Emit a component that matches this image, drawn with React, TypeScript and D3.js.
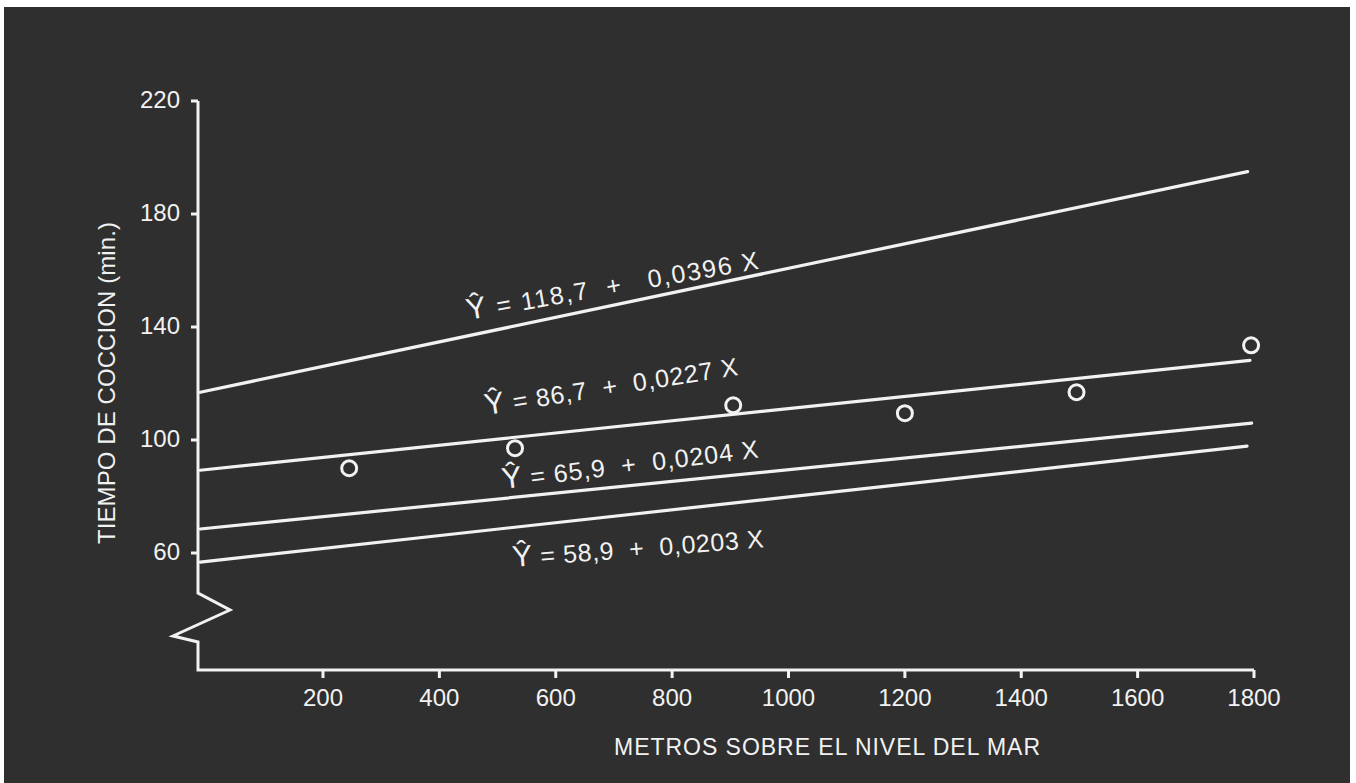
import React from "react";
import * as d3 from "d3";

const xTicks = [200, 400, 600, 800, 1000, 1200, 1400, 1600, 1800];
const yTicks = [60, 100, 140, 180, 220];

const obsX = [245, 530, 905, 1200, 1495, 1795];
const obsY = [90.0, 97.1, 112.3, 109.5, 116.9, 133.5];

const lineStartX = [-11, -11, -11, -11];
const lineEndX = [1789, 1793, 1796, 1788];
const lineStartY = [116.9, 89.3, 68.5, 56.8];
const lineEndY = [195.0, 128.2, 106.0, 97.8];

const eqRest = [
  " = 118,7  +   0,0396 X",
  " = 86,7  +  0,0227 X",
  " = 65,9  +  0,0204 X",
  " = 58,9  +  0,0203 X",
];
const labelPos = [
  { x: 468, y: 320, a: -10, len: 296 },
  { x: 486, y: 415, a: -9, len: 256 },
  { x: 503, y: 489, a: -7, len: 258 },
  { x: 513, y: 567, a: -4.5, len: 252 },
];

const xTitle = "METROS SOBRE EL NIVEL DEL MAR";
const yTitle = "TIEMPO DE COCCION (min.)";

const W = 1356;
const H = 783;
const FG = "#f2f2f2";
const FONT = "'Liberation Sans', Arial, Helvetica, sans-serif";

export default function App() {
  const x = d3.scaleLinear().domain([200, 1800]).range([323, 1254]);
  const y = d3.scaleLinear().domain([60, 220]).range([553, 101]);
  const axisX = 198;
  const axisY = 670;

  const line = d3
    .line<[number, number]>()
    .x((d) => x(d[0]))
    .y((d) => y(d[1]));

  const yAxisPath = d3.path();
  yAxisPath.moveTo(axisX, y(220));
  yAxisPath.lineTo(axisX, 593);
  yAxisPath.lineTo(230, 610);
  yAxisPath.lineTo(173, 636);
  yAxisPath.lineTo(axisX, 642);
  yAxisPath.lineTo(axisX, axisY);
  yAxisPath.lineTo(x(1800), axisY);

  return (
    <svg
      width={W}
      height={H}
      style={{ position: "absolute", left: 0, top: 0 }}
      fontFamily={FONT}
    >
      <rect x={0} y={0} width={W} height={H} fill="#ffffff" />
      <rect x={4} y={7} width={1346} height={H - 7} fill="#2f2f2f" />

      <path
        d={yAxisPath.toString()}
        fill="none"
        stroke={FG}
        strokeWidth={3}
        strokeLinejoin="miter"
      />
      {yTicks.map((t) => (
        <g key={"yt" + t}>
          <line x1={axisX - 7} x2={axisX} y1={y(t)} y2={y(t)} stroke={FG} strokeWidth={3} />
          <text
            x={180}
            y={y(t)}
            dy="0.3em"
            textAnchor="end"
            fontSize={24}
            fill={FG}
          >
            {t}
          </text>
        </g>
      ))}
      {xTicks.map((t) => (
        <g key={"xt" + t}>
          <line x1={x(t)} x2={x(t)} y1={axisY} y2={axisY + 8} stroke={FG} strokeWidth={3} />
          <text x={x(t)} y={706} textAnchor="middle" fontSize={24} fill={FG}>
            {t}
          </text>
        </g>
      ))}

      <text x={827} y={755} textAnchor="middle" fontSize={23} fill={FG} textLength={426}>
        {xTitle}
      </text>
      <text
        transform={`translate(115,383) rotate(-90)`}
        textAnchor="middle"
        fontSize={24}
        fill={FG}
        textLength={322}
      >
        {yTitle}
      </text>

      {lineStartY.map((v, i) => (
        <path
          key={"l" + i}
          d={line([
            [lineStartX[i], v],
            [lineEndX[i], lineEndY[i]],
          ]) || ""}
          fill="none"
          stroke={FG}
          strokeWidth={3.2}
          strokeLinecap="round"
        />
      ))}

      {obsX.map((v, i) => (
        <circle
          key={"c" + i}
          cx={x(v)}
          cy={y(obsY[i])}
          r={7.5}
          fill="none"
          stroke={FG}
          strokeWidth={3}
        />
      ))}

      {eqRest.map((s, i) => (
        <text
          key={"eq" + i}
          transform={`translate(${labelPos[i].x},${labelPos[i].y}) rotate(${labelPos[i].a})`}
          fontSize={25}
          fill={FG}
          style={{ whiteSpace: "pre" }}
          textLength={labelPos[i].len}
        >
          <tspan fontSize={30}>Ŷ</tspan>
          <tspan>{s}</tspan>
        </text>
      ))}
    </svg>
  );
}
